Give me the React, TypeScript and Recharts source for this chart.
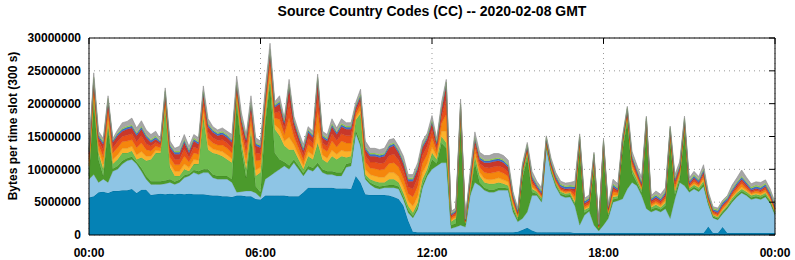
import { AreaChart, Area, XAxis, YAxis, CartesianGrid, ReferenceLine } from "recharts";

// one slot every 10 minutes, 145 slots from 00:00 to 24:00
const TIME_TICKS = [0, 36, 72, 108, 144];
const TIME_LABELS = ["00:00", "06:00", "12:00", "18:00", "00:00"];
const BYTE_TICKS = [0, 5000000, 10000000, 15000000, 20000000, 25000000, 30000000];

// values in millions of bytes per 300 s slot, bottom layer first
const darkBlue = [
  5.7, 5.9, 6.5, 6.6, 6.4, 6.7, 6.7, 6.8, 6.8, 7.0,
  6.4, 6.9, 6.9, 6.1, 6.2, 6.3, 6.2, 6.3, 6.2, 6.3,
  6.2, 6.3, 6.2, 6.2, 6.2, 6.1, 6.0, 6.0, 5.9, 5.9,
  5.8, 6.0, 6.0, 5.9, 5.9, 5.5, 5.4, 6.0, 6.0, 6.0,
  6.0, 6.0, 5.9, 5.9, 5.9, 6.5, 7.2, 7.2, 7.2, 7.2,
  7.2, 7.2, 7.1, 7.1, 7.1, 7.0, 9.0, 8.0, 6.2, 6.1,
  6.1, 6.1, 6.1, 6.0, 5.8, 5.5, 4.5, 2.2, 0.5, 0.4,
  0.4, 0.4, 0.4, 0.4, 0.4, 0.4, 0.4, 0.4, 0.4, 0.4,
  0.4, 0.4, 0.4, 0.4, 0.4, 0.4, 0.4, 0.4, 0.4, 0.4,
  0.5, 0.8, 1.1, 0.7, 0.4, 0.4, 0.4, 0.4, 0.4, 0.4,
  0.4, 0.4, 0.3, 0.3, 0.3, 0.3, 0.3, 0.3, 0.3, 0.3,
  0.3, 0.3, 0.3, 0.3, 0.3, 0.3, 0.3, 0.3, 0.3, 0.3,
  0.3, 0.3, 0.3, 0.3, 0.3, 0.3, 0.3, 0.3, 0.3, 0.3,
  1.3, 0.3, 0.3, 1.2, 0.3, 0.3, 0.3, 0.3, 0.3, 0.3,
  0.3, 0.3, 0.3, 0.3, 0.3,
];
const lightBlue = [
  2.8, 3.3, 1.5, 1.9, 1.6, 3.0, 3.3, 4.0, 4.5, 4.5,
  4.4, 2.8, 1.6, 1.6, 1.5, 1.4, 1.6, 1.7, 1.5, 1.7,
  2.5, 2.7, 3.3, 3.0, 3.3, 3.4, 2.7, 2.5, 2.6, 2.6,
  2.2, 0.5, 0.6, 0.8, 0.8, 0.9, 0.3, 2.5, 3.0, 3.5,
  4.0, 4.5, 4.1, 5.1, 4.1, 2.5, 2.8, 2.5, 3.3, 2.3,
  2.0, 2.0, 1.9, 1.9, 3.2, 3.5, 6.5, 5.5, 2.3, 1.6,
  1.1, 0.9, 1.1, 1.2, 1.4, 1.5, 0.9, 1.2, 2.1, 3.5,
  6.8, 8.6, 9.6, 10.1, 10.6, 10.6, 0.6, 0.8, 1.1, 0.8,
  5.6, 7.6, 7.1, 6.4, 6.1, 6.1, 6.4, 6.4, 6.4, 3.1,
  1.5, 1.7, 2.4, 5.3, 5.6, 4.6, 12.9, 9.1, 6.9, 5.6,
  5.3, 5.4, 4.1, 1.2, 2.7, 3.3, 1.2, 0.3, 1.2, 2.2,
  4.7, 4.9, 5.2, 6.7, 7.7, 7.2, 5.7, 3.7, 3.2, 3.5,
  3.2, 3.7, 2.2, 5.2, 7.7, 7.2, 6.2, 6.7, 6.3, 7.1,
  3.3, 2.3, 2.0, 2.0, 3.7, 4.7, 5.5, 6.1, 5.7, 5.1,
  5.3, 5.1, 5.5, 4.5, 2.7,
];
const darkGreen = [
  0.5, 11.0, 3.5, 0.5, 8.2, 0.4, 0.5, 0.5, 0.4, 0.4,
  0.3, 0.5, 0.5, 0.5, 0.5, 0.5, 0.5, 0.5, 0.4, 0.4,
  0.4, 0.3, 0.4, 0.5, 0.5, 0.5, 0.5, 0.5, 0.5, 0.5,
  0.5, 13.5, 6.4, 2.0, 8.3, 1.0, 0.8, 8.5, 14.0, 3.0,
  1.5, 0.6, 0.6, 0.5, 0.5, 0.4, 0.5, 0.5, 0.5, 0.5,
  0.5, 0.5, 0.5, 0.5, 0.5, 0.5, 0.5, 0.5, 0.3, 0.3,
  0.4, 0.4, 0.3, 0.4, 0.4, 0.4, 0.4, 0.4, 0.3, 0.4,
  0.4, 0.4, 1.5, 0.4, 3.0, 2.2, 0.5, 0.6, 15.5, 0.3,
  0.3, 3.0, 0.5, 0.4, 0.4, 0.4, 0.4, 0.4, 0.3, 0.5,
  0.3, 6.2, 8.2, 0.5, 0.3, 0.3, 0.3, 0.3, 0.3, 0.3,
  0.3, 0.3, 0.3, 11.5, 0.4, 0.3, 8.7, 0.2, 10.9, 0.4,
  0.4, 0.4, 7.5, 10.2, 1.4, 0.5, 0.4, 12.0, 0.4, 0.4,
  0.4, 0.5, 11.9, 0.6, 0.5, 8.2, 0.3, 0.3, 0.3, 0.4,
  0.3, 0.2, 0.2, 0.3, 0.3, 0.3, 0.3, 0.3, 0.3, 0.3,
  0.3, 0.3, 0.3, 0.3, 0.3,
];
const lightGreen = [
  1.0, 0.8, 1.0, 1.0, 0.8, 0.7, 1.0, 1.2, 0.8, 0.9,
  0.4, 1.6, 2.3, 3.3, 4.3, 4.3, 11.2, 1.8, 0.9, 0.6,
  0.9, 0.4, 0.9, 1.1, 8.0, 3.0, 3.3, 3.3, 3.0, 2.5,
  2.5, 1.0, 1.0, 1.3, 1.0, 1.6, 3.0, 1.0, 1.0, 3.6,
  3.6, 2.5, 2.4, 1.5, 1.0, 0.6, 1.5, 1.3, 3.0, 1.5,
  1.3, 2.3, 2.0, 2.5, 1.0, 1.0, 1.5, 4.5, 0.4, 0.5,
  0.6, 0.6, 0.5, 0.9, 0.9, 0.6, 0.6, 0.6, 0.5, 0.6,
  0.9, 0.6, 1.0, 0.6, 1.0, 0.8, 0.5, 0.7, 1.0, 0.3,
  0.5, 1.0, 1.0, 0.8, 0.9, 0.9, 0.8, 0.6, 0.4, 0.5,
  0.3, 0.8, 0.8, 0.5, 0.3, 0.3, 0.3, 0.3, 0.3, 0.3,
  0.3, 0.3, 0.2, 0.8, 0.4, 0.3, 0.8, 0.2, 0.8, 0.3,
  0.4, 0.3, 0.8, 0.8, 0.6, 0.5, 0.4, 0.8, 0.3, 0.4,
  0.3, 0.4, 0.8, 0.5, 0.5, 0.8, 0.3, 0.3, 0.3, 0.4,
  0.2, 0.2, 0.2, 0.2, 0.2, 0.3, 0.3, 0.3, 0.3, 0.3,
  0.3, 0.3, 0.3, 0.2, 0.2,
];
const amber = [
  0.5, 0.5, 0.5, 0.8, 0.7, 0.7, 0.7, 0.7, 0.7, 0.7,
  0.7, 0.9, 0.7, 0.5, 0.4, 0.3, 0.4, 0.6, 0.7, 0.7,
  0.8, 0.6, 0.7, 0.6, 0.7, 0.7, 0.6, 0.6, 0.7, 0.7,
  0.6, 0.4, 0.7, 0.9, 0.8, 0.9, 0.8, 0.6, 0.8, 0.7,
  1.0, 0.7, 1.9, 0.8, 0.7, 0.6, 0.7, 0.7, 1.9, 0.7,
  0.7, 0.9, 0.8, 0.9, 0.9, 0.8, 0.4, 0.5, 0.8, 0.7,
  0.8, 0.8, 0.8, 1.0, 1.0, 0.9, 0.9, 0.8, 1.0, 1.0,
  1.0, 0.9, 0.9, 0.5, 0.8, 1.8, 0.2, 0.2, 0.3, 0.1,
  0.3, 0.5, 0.5, 0.6, 0.6, 0.7, 0.7, 0.6, 0.6, 0.3,
  0.2, 0.1, 0.2, 0.3, 0.1, 0.1, 0.1, 0.1, 0.1, 0.1,
  0.1, 0.1, 0.4, 0.2, 0.2, 0.2, 0.2, 0.1, 0.2, 0.2,
  0.3, 0.2, 0.1, 0.2, 0.3, 0.2, 0.2, 0.1, 0.2, 0.2,
  0.2, 0.3, 0.1, 0.3, 0.2, 0.2, 0.1, 0.2, 0.2, 0.3,
  0.1, 0.1, 0.1, 0.2, 0.2, 0.2, 0.2, 0.3, 0.2, 0.2,
  0.2, 0.2, 0.2, 0.2, 0.1,
];
const orange = [
  0.7, 0.8, 0.7, 1.1, 1.0, 1.0, 1.1, 1.0, 1.1, 1.0,
  1.1, 1.3, 1.0, 0.8, 0.6, 0.5, 0.6, 0.9, 1.0, 1.0,
  1.2, 0.8, 1.0, 0.9, 1.0, 1.0, 0.9, 0.8, 1.0, 1.0,
  0.9, 0.5, 1.0, 1.3, 1.1, 1.4, 1.1, 0.9, 1.1, 1.0,
  1.5, 1.0, 2.9, 1.2, 1.0, 0.8, 1.1, 1.0, 2.9, 1.0,
  1.0, 1.4, 1.1, 1.4, 1.3, 1.2, 0.5, 0.8, 1.1, 1.0,
  1.1, 1.1, 1.2, 1.4, 1.5, 1.4, 1.3, 1.1, 1.4, 1.5,
  1.4, 1.4, 1.4, 0.7, 1.2, 2.6, 0.3, 0.3, 0.5, 0.1,
  0.5, 0.8, 0.8, 0.9, 1.0, 1.0, 1.0, 1.0, 0.8, 0.4,
  0.2, 0.2, 0.2, 0.5, 0.2, 0.2, 0.2, 0.2, 0.2, 0.2,
  0.2, 0.2, 0.6, 0.2, 0.3, 0.3, 0.3, 0.1, 0.2, 0.2,
  0.5, 0.3, 0.2, 0.3, 0.5, 0.3, 0.3, 0.2, 0.3, 0.3,
  0.3, 0.4, 0.2, 0.5, 0.4, 0.2, 0.2, 0.3, 0.2, 0.4,
  0.2, 0.2, 0.2, 0.3, 0.2, 0.3, 0.4, 0.5, 0.3, 0.2,
  0.3, 0.3, 0.3, 0.2, 0.2,
];
const redOrange = [
  0.6, 0.6, 0.6, 1.0, 0.8, 0.8, 0.9, 0.8, 0.9, 0.9,
  0.9, 1.1, 0.9, 0.7, 0.6, 0.4, 0.5, 0.8, 0.8, 0.8,
  1.1, 0.7, 0.9, 0.8, 0.9, 0.9, 0.8, 0.7, 0.8, 0.8,
  0.8, 0.5, 0.8, 1.1, 1.0, 1.2, 1.0, 0.8, 1.0, 0.8,
  1.2, 0.8, 2.4, 1.1, 0.8, 0.7, 0.9, 0.8, 2.4, 0.8,
  0.8, 1.1, 1.0, 1.1, 1.1, 1.1, 0.5, 0.6, 1.0, 0.9,
  1.0, 1.0, 1.0, 1.2, 1.3, 1.1, 1.1, 1.0, 1.2, 1.3,
  1.2, 1.2, 1.1, 0.6, 1.0, 2.2, 0.3, 0.3, 0.4, 0.1,
  0.5, 0.6, 0.6, 0.8, 0.8, 0.9, 0.8, 0.8, 0.7, 0.3,
  0.2, 0.2, 0.2, 0.4, 0.2, 0.2, 0.1, 0.2, 0.2, 0.2,
  0.2, 0.2, 0.6, 0.2, 0.3, 0.3, 0.2, 0.1, 0.2, 0.2,
  0.4, 0.2, 0.2, 0.2, 0.4, 0.3, 0.2, 0.2, 0.3, 0.3,
  0.3, 0.3, 0.2, 0.4, 0.3, 0.2, 0.2, 0.3, 0.2, 0.4,
  0.2, 0.2, 0.2, 0.2, 0.2, 0.3, 0.3, 0.4, 0.3, 0.2,
  0.2, 0.2, 0.3, 0.2, 0.2,
];
const darkRed = [
  0.5, 0.6, 0.5, 0.9, 0.8, 0.8, 0.9, 0.8, 0.9, 0.9,
  0.9, 1.0, 0.9, 0.6, 0.5, 0.3, 0.5, 0.7, 0.8, 0.8,
  1.0, 0.7, 0.9, 0.7, 0.9, 0.9, 0.8, 0.7, 0.8, 0.8,
  0.8, 0.4, 0.8, 1.0, 0.9, 1.1, 0.9, 0.7, 0.9, 0.8,
  1.2, 0.8, 2.3, 1.0, 0.8, 0.7, 0.9, 0.8, 2.3, 0.8,
  0.8, 1.1, 0.9, 1.1, 1.0, 1.0, 0.4, 0.6, 0.9, 0.9,
  0.9, 0.9, 1.0, 1.2, 1.3, 1.1, 1.1, 0.9, 1.2, 1.3,
  1.2, 1.1, 1.1, 0.5, 1.0, 2.2, 0.2, 0.2, 0.3, 0.1,
  0.4, 0.6, 0.6, 0.7, 0.8, 0.8, 0.8, 0.8, 0.7, 0.3,
  0.2, 0.2, 0.2, 0.4, 0.2, 0.2, 0.1, 0.2, 0.2, 0.2,
  0.2, 0.2, 0.5, 0.2, 0.2, 0.3, 0.2, 0.1, 0.2, 0.2,
  0.3, 0.2, 0.1, 0.2, 0.4, 0.3, 0.2, 0.1, 0.2, 0.3,
  0.2, 0.3, 0.2, 0.4, 0.3, 0.2, 0.2, 0.3, 0.2, 0.3,
  0.2, 0.2, 0.2, 0.2, 0.2, 0.2, 0.3, 0.3, 0.3, 0.2,
  0.2, 0.2, 0.2, 0.2, 0.2,
];
const blue = [
  0.3, 0.3, 0.3, 0.3, 0.3, 0.2, 0.3, 0.3, 0.3, 0.3,
  0.3, 0.3, 0.3, 0.3, 0.3, 0.2, 0.3, 0.3, 0.3, 0.3,
  0.3, 0.3, 0.3, 0.3, 0.3, 0.3, 0.3, 0.3, 0.3, 0.3,
  0.3, 0.3, 0.3, 0.3, 0.3, 0.3, 0.3, 0.3, 0.3, 0.3,
  0.3, 0.3, 0.3, 0.3, 0.3, 0.3, 0.3, 0.3, 0.3, 0.3,
  0.3, 0.3, 0.3, 0.3, 0.3, 0.3, 0.3, 0.3, 0.3, 0.3,
  0.3, 0.3, 0.3, 0.3, 0.3, 0.3, 0.3, 0.3, 0.3, 0.3,
  0.3, 0.3, 0.3, 0.3, 0.3, 0.3, 0.2, 0.2, 0.3, 0.1,
  0.3, 0.3, 0.3, 0.3, 0.3, 0.3, 0.3, 0.3, 0.3, 0.3,
  0.3, 0.3, 0.3, 0.3, 0.3, 0.3, 0.3, 0.3, 0.3, 0.3,
  0.3, 0.3, 0.3, 0.3, 0.3, 0.3, 0.3, 0.1, 0.2, 0.2,
  0.3, 0.3, 0.3, 0.3, 0.3, 0.3, 0.3, 0.3, 0.3, 0.3,
  0.3, 0.3, 0.3, 0.3, 0.3, 0.3, 0.3, 0.3, 0.3, 0.3,
  0.3, 0.2, 0.3, 0.3, 0.3, 0.3, 0.3, 0.3, 0.3, 0.3,
  0.3, 0.3, 0.3, 0.3, 0.3,
];
const lime = [
  0.2, 0.2, 0.2, 0.2, 0.2, 0.1, 0.2, 0.2, 0.2, 0.2,
  0.2, 0.2, 0.2, 0.2, 0.2, 0.1, 0.2, 0.2, 0.2, 0.2,
  0.2, 0.2, 0.2, 0.2, 0.2, 0.2, 0.2, 0.2, 0.2, 0.2,
  0.2, 0.2, 0.2, 0.2, 0.2, 0.2, 0.2, 0.2, 0.2, 0.2,
  0.2, 0.2, 0.2, 0.2, 0.2, 0.2, 0.2, 0.2, 0.2, 0.2,
  0.2, 0.2, 0.2, 0.2, 0.2, 0.2, 0.2, 0.2, 0.2, 0.2,
  0.2, 0.2, 0.2, 0.2, 0.2, 0.2, 0.2, 0.2, 0.2, 0.2,
  0.2, 0.2, 0.2, 0.2, 0.2, 0.2, 0.1, 0.1, 0.2, 0.1,
  0.2, 0.2, 0.2, 0.2, 0.2, 0.2, 0.2, 0.2, 0.2, 0.2,
  0.2, 0.2, 0.2, 0.2, 0.2, 0.2, 0.2, 0.2, 0.2, 0.2,
  0.2, 0.2, 0.2, 0.2, 0.2, 0.2, 0.2, 0.1, 0.2, 0.2,
  0.2, 0.2, 0.2, 0.2, 0.2, 0.2, 0.2, 0.2, 0.2, 0.2,
  0.2, 0.2, 0.2, 0.2, 0.2, 0.2, 0.2, 0.2, 0.2, 0.2,
  0.2, 0.2, 0.2, 0.2, 0.2, 0.2, 0.2, 0.2, 0.2, 0.2,
  0.2, 0.2, 0.2, 0.2, 0.2,
];
const gray = [
  0.4, 0.7, 0.5, 0.4, 0.4, 0.3, 0.4, 0.8, 0.7, 1.0,
  0.7, 0.8, 0.7, 0.7, 0.7, 0.3, 0.4, 0.5, 0.4, 0.7,
  0.7, 0.5, 0.5, 0.5, 0.7, 0.7, 0.4, 0.4, 0.5, 0.5,
  0.7, 0.9, 0.8, 0.5, 0.9, 0.7, 0.5, 0.9, 0.9, 0.4,
  0.7, 0.4, 0.7, 0.5, 0.5, 0.5, 0.4, 0.5, 0.5, 0.5,
  0.5, 0.7, 0.5, 0.7, 0.5, 0.5, 0.4, 0.7, 0.8, 0.7,
  0.7, 0.7, 0.7, 0.7, 0.6, 0.5, 0.7, 0.5, 0.5, 0.5,
  0.5, 0.4, 0.7, 0.4, 0.7, 0.4, 0.3, 0.3, 0.7, 0.1,
  0.6, 0.7, 0.6, 0.6, 0.6, 0.7, 0.6, 0.6, 0.6, 0.3,
  0.2, 0.2, 0.3, 0.6, 0.4, 0.4, 0.2, 0.4, 0.4, 0.4,
  0.4, 0.4, 0.7, 0.3, 0.3, 0.3, 0.2, 0.1, 0.2, 0.2,
  0.7, 0.5, 0.2, 0.2, 0.6, 0.6, 0.5, 0.2, 0.3, 0.5,
  0.5, 0.5, 0.2, 0.5, 0.5, 0.3, 0.4, 0.5, 0.4, 0.6,
  0.3, 0.2, 0.2, 0.2, 0.2, 0.5, 0.6, 0.9, 0.6, 0.5,
  0.5, 0.6, 0.5, 0.4, 0.3,
];

const SERIES = [
  { key: "darkBlue", values: darkBlue, fill: "#0582b5", stroke: "#03658e" },
  { key: "lightBlue", values: lightBlue, fill: "#8ec5e5", stroke: "#6f9fbb" },
  { key: "darkGreen", values: darkGreen, fill: "#4b9a2c", stroke: "#3a7c22" },
  { key: "lightGreen", values: lightGreen, fill: "#6dbb4f", stroke: "#56a03d" },
  { key: "amber", values: amber, fill: "#fbb22a", stroke: "#d9951c" },
  { key: "orange", values: orange, fill: "#f5860c", stroke: "#d47008" },
  { key: "redOrange", values: redOrange, fill: "#e84f18", stroke: "#c44012" },
  { key: "darkRed", values: darkRed, fill: "#c8382a", stroke: "#a52c20" },
  { key: "blue", values: blue, fill: "#3e6ec8", stroke: "#2f58a6" },
  { key: "lime", values: lime, fill: "#96d04c", stroke: "#7bae3c" },
  { key: "gray", values: gray, fill: "#a6a6a6", stroke: "#8c8c8c" },
];

const rows = darkBlue.map((_, i) => {
  const row: Record<string, number> = { slot: i };
  SERIES.forEach((s) => {
    row[s.key] = Math.round(s.values[i] * 1000000);
  });
  return row;
});

const LAST_SLOT = TIME_TICKS[TIME_TICKS.length - 1];
const TOP_BYTES = BYTE_TICKS[BYTE_TICKS.length - 1];
const tickStyle = { fill: "#000", fontSize: 12, fontWeight: "bold" as const };

export default function App() {
  return (
    <div
      style={{
        position: "absolute",
        left: 0,
        top: 0,
        width: 795,
        height: 260,
        background: "#fff",
        fontFamily: "'Liberation Sans', Arial, sans-serif",
      }}
    >
      <AreaChart width={795} height={260} data={rows} margin={{ top: 38, right: 20, bottom: 0, left: 0 }}>
        <CartesianGrid stroke="#999" strokeDasharray="1 4" />
        <XAxis
          dataKey="slot"
          type="number"
          domain={[0, LAST_SLOT]}
          ticks={TIME_TICKS}
          interval={0}
          tickFormatter={(v: number) => TIME_LABELS[TIME_TICKS.indexOf(v)]}
          height={25}
          axisLine={{ stroke: "#000" }}
          tickLine={false}
          tickMargin={7}
          tick={tickStyle}
        />
        <YAxis
          type="number"
          domain={[0, TOP_BYTES]}
          ticks={BYTE_TICKS}
          interval={0}
          width={89}
          axisLine={{ stroke: "#000" }}
          tickLine={false}
          tick={tickStyle}
        />
        {SERIES.map((s) => (
          <Area
            key={s.key}
            type="linear"
            dataKey={s.key}
            stackId="cc"
            fill={s.fill}
            fillOpacity={1}
            stroke={s.stroke}
            strokeWidth={0.6}
            dot={false}
            activeDot={false}
            isAnimationActive={false}
          />
        ))}
        {/* frame: top and right border lines with inward tick marks */}
        <ReferenceLine y={TOP_BYTES} stroke="#000" />
        <ReferenceLine x={LAST_SLOT} stroke="#000" />
        {TIME_TICKS.map((t) => (
          <ReferenceLine
            key={`tt${t}`}
            segment={[{ x: t, y: TOP_BYTES }, { x: t, y: TOP_BYTES * 0.97 }]}
            stroke="#000"
          />
        ))}
        {BYTE_TICKS.map((b) => (
          <ReferenceLine
            key={`rt${b}`}
            segment={[{ x: LAST_SLOT, y: b }, { x: LAST_SLOT * 0.9915, y: b }]}
            stroke="#000"
          />
        ))}
      </AreaChart>
      <div
        style={{
          position: "absolute",
          left: 89,
          width: 686,
          top: 3,
          textAlign: "center",
          fontWeight: "bold",
          fontSize: 14,
          whiteSpace: "nowrap",
        }}
      >
        Source Country Codes (CC) -- 2020-02-08 GMT
      </div>
      <div
        style={{
          position: "absolute",
          left: 13,
          top: 126,
          transform: "translate(-50%, -50%) rotate(-90deg)",
          whiteSpace: "nowrap",
          fontWeight: "bold",
          fontSize: 12,
        }}
      >
        Bytes per time slot (300 s)
      </div>
    </div>
  );
}
